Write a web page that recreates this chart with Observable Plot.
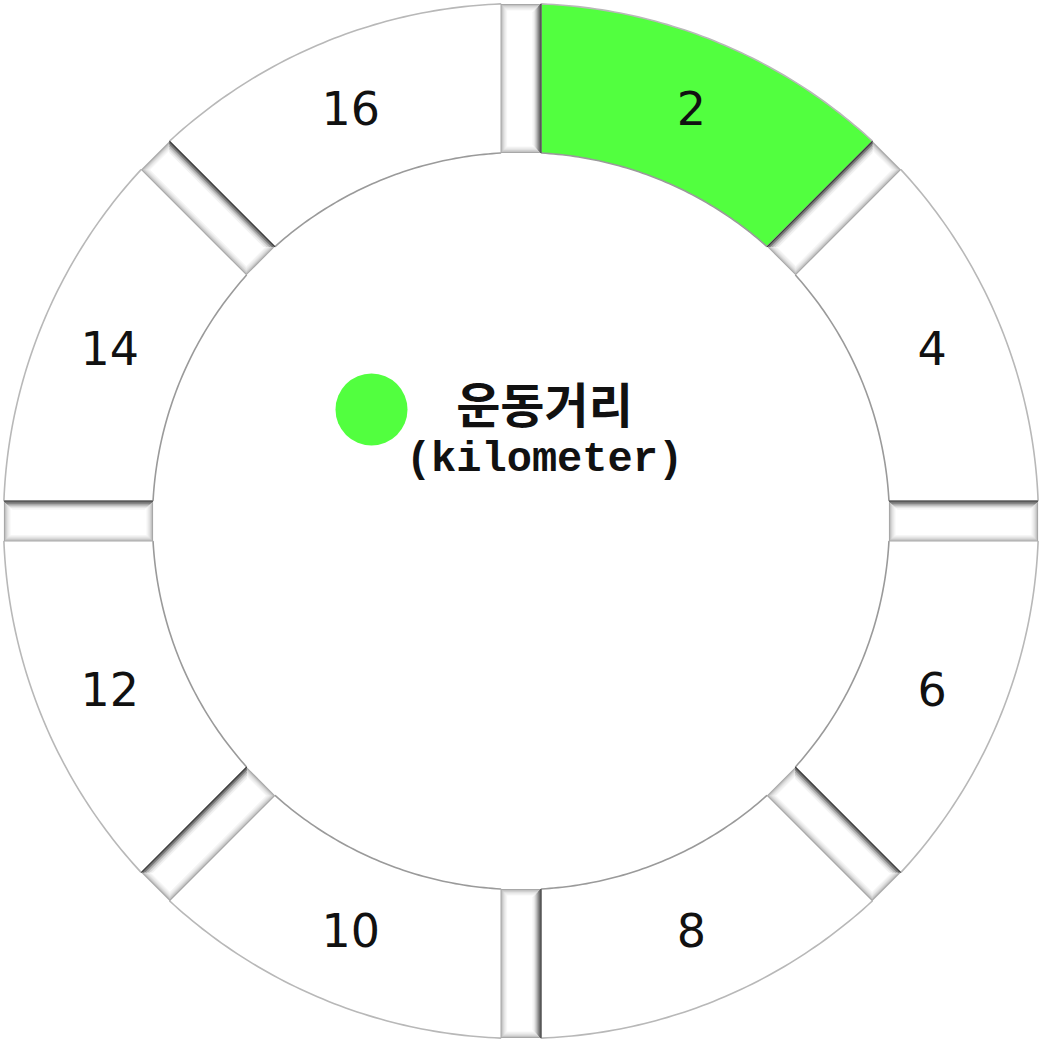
<!DOCTYPE html>
<html>
<head>
<meta charset="utf-8">
<script src="https://cdn.jsdelivr.net/npm/d3@7"></script>
<script src="https://cdn.jsdelivr.net/npm/@observablehq/plot@0.6"></script>
<style>
  html, body { margin: 0; padding: 0; background: #fff; }
  #chart { width: 1043px; height: 1042px; }
</style>
</head>
<body>
<div id="chart"></div>
<script>
// ---- data ----
const labels = ["2", "4", "6", "8", "10", "12", "14", "16"];
const values = [1, 1, 1, 1, 1, 1, 1, 1];        // equal slices of the gauge
const current = 2;                               // 운동거리 value (km)
const seriesName = "운동거리";
const seriesUnit = "(kilometer)";
const activeColor = "#52ff3f";

// ---- layout ----
const W = 1043, H = 1042;
const cx = 520.5, cy = 520.5;
const R = 517.5, rIn = 368.5, g = 20.5, rLabel = 445;
const total = d3.sum(values);
const deg = Math.PI / 180;
const pt = (a, r) => [cx + r * Math.sin(a * deg), cy - r * Math.cos(a * deg)];

// boundary angles from cumulative values
const bounds = [0];
values.forEach(v => bounds.push(bounds[bounds.length - 1] + v / total * 360));

// segment polygons
const segPts = [];
const outerArc = [], innerArc = [];
labels.forEach((lab, i) => {
  const a0 = bounds[i], a1 = bounds[i + 1];
  const oo = Math.asin(g / R) / deg, oi = Math.asin(g / rIn) / deg;
  const active = +lab <= current;
  const n = 60;
  for (let k = 0; k <= n; k++) {
    const a = a0 + oo + (a1 - oo - (a0 + oo)) * k / n;
    const [x, y] = pt(a, R);
    segPts.push({seg: i, x, y, active});
    outerArc.push({seg: i, x, y});
  }
  for (let k = n; k >= 0; k--) {
    const a = a0 + oi + (a1 - oi - (a0 + oi)) * k / n;
    const [x, y] = pt(a, rIn);
    segPts.push({seg: i, x, y, active});
    innerArc.push({seg: i, x, y});
  }
});

// label positions
const labelData = labels.map((lab, i) => {
  const [x, y] = pt((bounds[i] + bounds[i + 1]) / 2, rLabel);
  return {lab, x, y};
});

// gap bevel bars at each boundary
const uIn = Math.sqrt(rIn * rIn - g * g), uOut = Math.sqrt(R * R - g * g);
const bevelColors = ["#a8a8a8", "#c4c4c4", "#d6d6d6", "#e4e4e4", "#eeeeee", "#f6f6f6", "#ffffff"];
const bevelPts = [];
const darkPts = [];
const darkColors = ["#3a3a3a", "#5a5a5a", "#7e7e7e", "#a0a0a0", "#bdbdbd", "#d4d4d4", "#e6e6e6", "#f2f2f2"];
bounds.slice(0, labels.length).forEach((a, gi) => {
  const dir = [Math.sin(a * deg), -Math.cos(a * deg)];
  const p = [Math.cos(a * deg), Math.sin(a * deg)];
  const P = (u, v) => ({x: cx + u * dir[0] + v * p[0], y: cy + u * dir[1] + v * p[1]});
  // dark side: the side whose normal faces up (or right when vertical)
  let s = (p[1] < -1e-6 || (Math.abs(p[1]) <= 1e-6 && p[0] > 0)) ? -1 : 1;
  s = -s;
  if (p[1] < -1e-6 || (Math.abs(p[1]) <= 1e-6 && p[0] > 0)) s = 1; else s = -1;
  bevelColors.forEach((c, k) => {
    const d = k * 1.1;
    [[uIn + d, -g + d], [uOut - d, -g + d], [uOut - d, g - d], [uIn + d, g - d]].forEach(([u, v]) => {
      bevelPts.push({key: gi * 100 + k, layer: k, ...P(u, v)});
    });
  });
  darkColors.forEach((c, k) => {
    const d = 0.6 + k * 1.1;
    [[uIn + d, s * (g - d)], [uOut - d, s * (g - d)]].forEach(([u, v]) => {
      darkPts.push({key: gi * 100 + k, layer: k, ...P(u, v)});
    });
  });
});

const marks = [];
// segments
marks.push(Plot.line(segPts.filter(d => !d.active), {x: "x", y: "y", z: "seg", curve: "linear-closed", fill: "#ffffff", stroke: "none"}));
marks.push(Plot.line(segPts.filter(d => d.active), {x: "x", y: "y", z: "seg", curve: "linear-closed", fill: activeColor, stroke: "none"}));
marks.push(Plot.line(outerArc, {x: "x", y: "y", z: "seg", stroke: "#b8b8b8", strokeWidth: 1.6}));
marks.push(Plot.line(innerArc, {x: "x", y: "y", z: "seg", stroke: "#9a9a9a", strokeWidth: 1.6}));
// gap bevels
bevelColors.forEach((c, k) => {
  marks.push(Plot.line(bevelPts.filter(d => d.layer === k), {x: "x", y: "y", z: "key", curve: "linear-closed", fill: c, stroke: "none"}));
});
darkColors.forEach((c, k) => {
  marks.push(Plot.line(darkPts.filter(d => d.layer === k), {x: "x", y: "y", z: "key", stroke: c, strokeWidth: 1.3}));
});
// labels
marks.push(Plot.text(labelData, {x: "x", y: "y", text: "lab", fontSize: 46, fontFamily: "DejaVu Sans", fill: "#111", lineAnchor: "middle", textAnchor: "middle"}));
// legend in centre
marks.push(Plot.dot([{x: 371, y: 409}], {x: "x", y: "y", r: 36, fill: activeColor, stroke: "none"}));
marks.push(Plot.text([{x: 544, y: 407, t: seriesName}], {x: "x", y: "y", text: "t", fontSize: 48, fontWeight: "bold", fontFamily: "Noto Sans CJK KR", fill: "#111", lineAnchor: "middle", textAnchor: "middle"}));
marks.push(Plot.text([{x: 544, y: 457, t: seriesUnit}], {x: "x", y: "y", text: "t", fontSize: 42, fontWeight: "bold", fontFamily: "Liberation Mono", fill: "#111", lineAnchor: "middle", textAnchor: "middle"}));

const chart = Plot.plot({
  width: W, height: H, margin: 0,
  x: {domain: [0, W], range: [0, W], axis: null},
  y: {domain: [0, H], range: [0, H], axis: null},
  style: {background: "#ffffff"},
  marks
});
document.getElementById("chart").appendChild(chart);
</script>
</body>
</html>
